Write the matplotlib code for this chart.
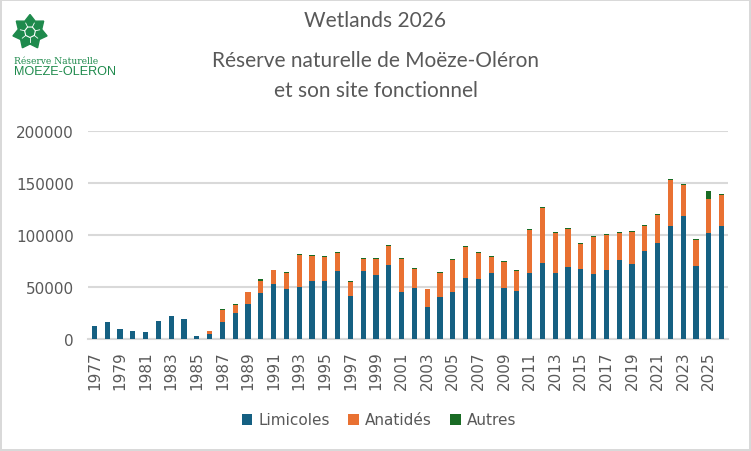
import numpy as np
import matplotlib
matplotlib.use("Agg")
import matplotlib.pyplot as plt
from matplotlib.patches import Polygon

# Data
years = list(range(1977, 2027))
limicoles = [12200, 16000, 9300, 7400, 6400, 17000, 21800, 18900, 2600, 4500,
             16000, 24700, 33300, 43900, 52600, 47800, 49700, 55400, 55400, 65100,
             41000, 65100, 61200, 70800, 44900, 48700, 30400, 40100, 44900, 58300,
             57400, 63100, 48700, 45800, 63100, 72800, 63100, 68900, 67000, 62200,
             66000, 75600, 71800, 84300, 92000, 108300, 117900, 69900, 101600, 108300]
anatides = [0, 0, 0, 0, 0, 0, 0, 0, 0, 2900,
            11600, 7700, 11600, 12200, 13400, 15300, 30700, 24100, 23100, 17300,
            13500, 11500, 15400, 18300, 31700, 18300, 17400, 23000, 30700, 29800,
            25000, 15400, 25000, 19300, 41400, 52800, 38500, 36500, 24000, 35600,
            33700, 26000, 30800, 24000, 26900, 44300, 29800, 25000, 32700, 29800]
autres = [0, 0, 0, 0, 0, 0, 0, 0, 0, 0,
          900, 900, 0, 1300, 0, 1000, 1000, 900, 1000, 900,
          900, 1000, 1000, 1000, 1000, 900, 0, 1000, 1000, 1000,
          900, 1000, 1000, 900, 900, 1000, 1000, 1000, 1000, 900,
          900, 1000, 900, 1000, 1000, 900, 1000, 900, 7700, 1000]

series_names = ["Limicoles", "Anatidés", "Autres"]
colors = ["#156082", "#E97132", "#196B24"]

fig = plt.figure(figsize=(7.51, 4.52), dpi=100)
fig.patch.set_edgecolor("#D9D9D9")
fig.patch.set_linewidth(1.5)

# Title
title_color = "#595959"
fig.text(0.5, 1 - 21 / 452, "Wetlands 2026", ha="center", va="center",
         fontsize=15, color=title_color, family="Lato")
fig.text(0.5, 1 - 61 / 452, "Réserve naturelle de Moëze-Oléron", ha="center", va="center",
         fontsize=15, color=title_color, family="Lato")
fig.text(0.5, 1 - 91 / 452, "et son site fonctionnel", ha="center", va="center",
         fontsize=15, color=title_color, family="Lato")

# Logo (approximation of the reserve emblem)
logo_green = "#1E8A4C"
lax = fig.add_axes([0, 1 - 80 / 452, 130 / 751, 80 / 452])
lax.set_xlim(0, 130)
lax.set_ylim(80, 0)
lax.axis("off")
cx, cy, ro, ri = 30, 33, 17.5, 12
ang = np.linspace(0, 2 * np.pi, 15)[:-1] - np.pi / 2
rad = np.where(np.arange(14) % 2 == 0, ro, ri)
star = np.column_stack([cx + rad * np.cos(ang), cy + rad * np.sin(ang)])
lax.add_patch(Polygon(star, closed=True, color=logo_green))
ang2 = np.linspace(0, 2 * np.pi, 8)[:-1] - np.pi / 2 + np.pi / 7
inner = np.column_stack([cx + 5.5 * np.cos(ang2), cy + 5.5 * np.sin(ang2)])
lax.add_patch(Polygon(inner, closed=True, fill=False, edgecolor="white", linewidth=0.8))
for (px, py) in inner:
    lax.plot([px, cx + (px - cx) * 1.8], [py, cy + (py - cy) * 1.8], color="white", lw=0.6)
lax.text(14, 61, "Réserve Naturelle", fontsize=6.6, color=logo_green,
         family="DejaVu Serif", va="center", ha="left")
lax.text(14, 72, "MOEZE-OLERON", fontsize=9.1, color=logo_green,
         family="Liberation Sans", va="center", ha="left")

# Main chart
ax = fig.add_axes([88 / 751, 1 - 340 / 452, 640 / 751, 208 / 452])
x = np.arange(len(years))
bottom = np.zeros(len(years))
for vals, name, col in zip([limicoles, anatides, autres], series_names, colors):
    ax.bar(x, vals, width=0.42, bottom=bottom, color=col, label=name, zorder=3)
    bottom = bottom + np.array(vals)

ax.set_xlim(-0.5, len(years) - 0.5)
ax.set_ylim(0, 200000)
ax.set_yticks([0, 50000, 100000, 150000, 200000])
ax.set_yticklabels(["0", "50000", "100000", "150000", "200000"])
ax.yaxis.grid(True, color="#D9D9D9", linewidth=1.5, zorder=0)
ax.set_xticks(x[::2])
ax.set_xticklabels([str(y) for y in years[::2]], rotation=90)
ax.tick_params(axis="both", length=0, labelsize=11, colors="#595959")
ax.tick_params(axis="y", pad=10)
ax.tick_params(axis="x", pad=8)
for side in ["top", "right", "left"]:
    ax.spines[side].set_visible(False)
ax.spines["bottom"].set_color("#D9D9D9")
ax.spines["bottom"].set_linewidth(1.5)

leg = fig.legend(loc="center", bbox_to_anchor=(379 / 751, 1 - 421 / 452), ncol=3,
                 frameon=False, fontsize=11, handlelength=0.7, handleheight=0.7,
                 handletextpad=0.4, columnspacing=1.2)
for t in leg.get_texts():
    t.set_color("#595959")

fig.savefig("out.png", dpi=100, edgecolor=fig.get_edgecolor())
